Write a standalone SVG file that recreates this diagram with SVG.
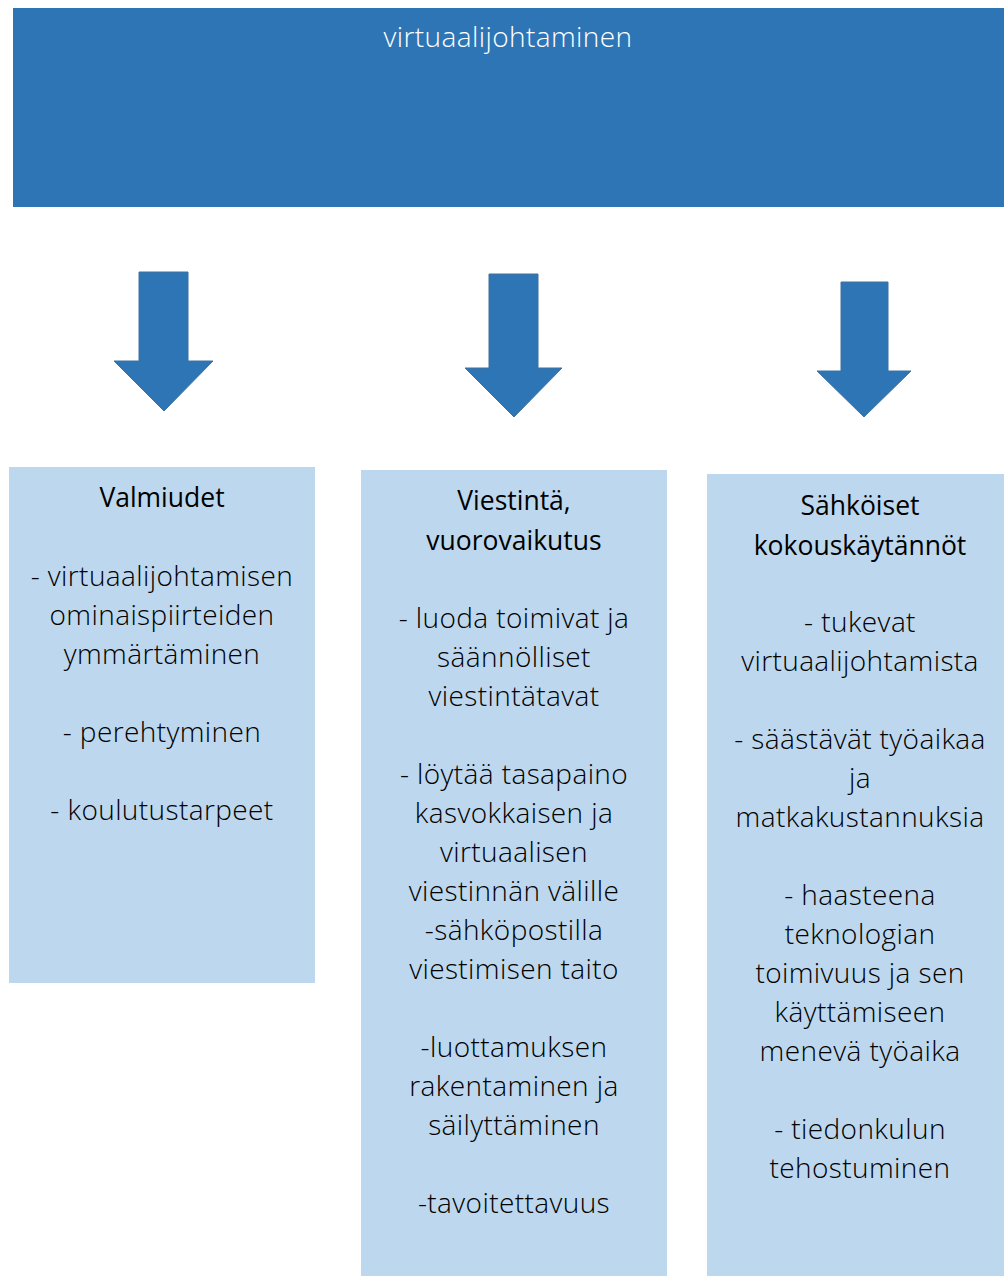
<svg xmlns="http://www.w3.org/2000/svg" width="1008" height="1276" viewBox="0 0 1008 1276">
<style>
.top{fill:#2E75B6}
.box{fill:#BDD7EE}
.arrow{fill:#2E75B6;stroke:#41719C;stroke-width:1}
text{font-family:"Open Sans","Noto Sans","Liberation Sans",sans-serif;text-anchor:middle}
.title{fill:#ffffff;font-weight:300;font-size:28px;letter-spacing:0.4px}
.h{fill:#000000;font-weight:400;font-size:26.5px}
.b{fill:#000000;font-weight:300;font-size:28px;letter-spacing:0.4px}
</style>
<g id="node-top">
<rect class="top" x="13" y="8" width="991" height="199"/>
<text class="title" x="508" y="47">virtuaalijohtaminen</text>
</g>
<g id="connectors">
<path class="arrow" d="M139,272 H188 V361 H213 L164,411 L114,361 H139 Z"/>
<path class="arrow" d="M489,274 H538 V368 H562 L514,417 L465,368 H489 Z"/>
<path class="arrow" d="M841,282 H888 V371 H911 L864,417 L817,371 H841 Z"/>
</g>
<g id="node-valmiudet">
<rect class="box" x="9" y="467" width="306" height="516"/>
<text class="h" x="162" y="507">Valmiudet</text>
<text class="b" x="162" y="586">- virtuaalijohtamisen</text>
<text class="b" x="162" y="625">ominaispiirteiden</text>
<text class="b" x="162" y="664">ymmärtäminen</text>
<text class="b" x="162" y="742">- perehtyminen</text>
<text class="b" x="162" y="820">- koulutustarpeet</text>
</g>
<g id="node-viestinta">
<rect class="box" x="361" y="470" width="306" height="806"/>
<text class="h" x="514" y="510">Viestintä,</text>
<text class="h" x="514" y="550">vuorovaikutus</text>
<text class="b" x="514" y="628">- luoda toimivat ja</text>
<text class="b" x="514" y="667">säännölliset</text>
<text class="b" x="514" y="706">viestintätavat</text>
<text class="b" x="514" y="784">- löytää tasapaino</text>
<text class="b" x="514" y="823">kasvokkaisen ja</text>
<text class="b" x="514" y="862">virtuaalisen</text>
<text class="b" x="514" y="901">viestinnän välille</text>
<text class="b" x="514" y="940">-sähköpostilla</text>
<text class="b" x="514" y="979">viestimisen taito</text>
<text class="b" x="514" y="1057">-luottamuksen</text>
<text class="b" x="514" y="1096">rakentaminen ja</text>
<text class="b" x="514" y="1135">säilyttäminen</text>
<text class="b" x="514" y="1213">-tavoitettavuus</text>
</g>
<g id="node-sahkoiset">
<rect class="box" x="707" y="474" width="297" height="802"/>
<text class="h" x="860" y="515">Sähköiset</text>
<text class="h" x="860" y="555">kokouskäytännöt</text>
<text class="b" x="860" y="632">- tukevat</text>
<text class="b" x="860" y="671">virtuaalijohtamista</text>
<text class="b" x="860" y="749">- säästävät työaikaa</text>
<text class="b" x="860" y="788">ja</text>
<text class="b" x="860" y="827">matkakustannuksia</text>
<text class="b" x="860" y="905">- haasteena</text>
<text class="b" x="860" y="944">teknologian</text>
<text class="b" x="860" y="983">toimivuus ja sen</text>
<text class="b" x="860" y="1022">käyttämiseen</text>
<text class="b" x="860" y="1061">menevä työaika</text>
<text class="b" x="860" y="1139">- tiedonkulun</text>
<text class="b" x="860" y="1178">tehostuminen</text>
</g>
</svg>
